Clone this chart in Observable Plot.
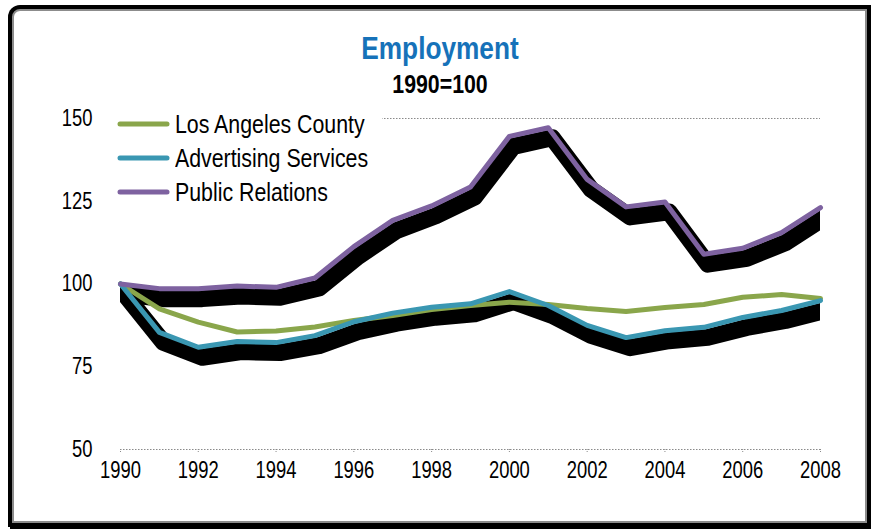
<!DOCTYPE html>
<html>
<head>
<meta charset="utf-8">
<script src="https://cdn.jsdelivr.net/npm/d3@7"></script>
<script src="https://cdn.jsdelivr.net/npm/@observablehq/plot@0.6"></script>
<style>
  html, body { margin: 0; padding: 0; background: #fff; }
  body { width: 871px; height: 529px; position: relative; overflow: hidden;
         font-family: "Liberation Sans", Arial, sans-serif; }
  #frame { position: absolute; left: 12px; top: 9px; width: 851px; height: 510px;
           border: 2px solid #8c8c8c; border-top-left-radius: 8px;
           box-shadow: 0 0 0 4px #000, 2px 3px 0 4px #000; background: #fff; }
  #head { position: relative; height: 100px; width: 871px; }
  #title { position: absolute; left: 0; width: 880px; top: 32px; text-align: center;
           font-size: 32px; line-height: 32px; font-weight: bold; color: #1672b9;
           transform: scaleX(0.82); transform-origin: 440px 0; }
  #subtitle { position: absolute; left: 0; width: 880px; top: 71px; text-align: center;
              font-size: 26px; line-height: 26px; font-weight: bold; color: #000;
              transform: scaleX(0.82); transform-origin: 440px 0; }
  #chart { position: relative; }
  #legend { position: absolute; left: 110px; top: 104px; width: 272px; height: 106px; background: #fff; }
  .row { position: absolute; left: 0; height: 30px; display: flex; align-items: center; }
  .row svg { margin-left: 7px; margin-right: 5px; flex: none; }
  .row span { font-size: 26px; line-height: 30px; color: #000; white-space: nowrap;
              display: inline-block; transform: scaleX(0.82); transform-origin: 0 50%; }
</style>
</head>
<body>
<div id="frame"></div>
<div id="head">
  <div id="title">Employment</div>
  <div id="subtitle">1990=100</div>
</div>
<div id="chart"></div>
<div id="legend"></div>
<script>
const years = [1990, 1991, 1992, 1993, 1994, 1995, 1996, 1997, 1998, 1999, 2000, 2001, 2002, 2003, 2004, 2005, 2006, 2007, 2008];
const laCounty = [100, 92.5, 88.5, 85.5, 85.8, 87, 89, 90.5, 92.3, 93.5, 94.5, 93.8, 92.6, 91.7, 92.9, 93.8, 96, 96.8, 95.6];
const advertising = [100, 85.4, 80.9, 82.6, 82.3, 84.4, 88.6, 91.2, 93, 94, 97.7, 93.5, 87.5, 83.8, 85.9, 86.9, 89.9, 92, 95];
const publicRelations = [100, 98.6, 98.6, 99.4, 99, 101.8, 111.3, 119.2, 123.6, 129.3, 144.6, 147.2, 131.6, 123.3, 124.8, 109, 110.8, 115.5, 123.1];
const seriesNames = ["Los Angeles County", "Advertising Services", "Public Relations"];
const seriesColors = ["#8aa64b", "#3a97b2", "#7e62a0"];
const xTicks = [1990, 1992, 1994, 1996, 1998, 2000, 2002, 2004, 2006, 2008];
const yTicks = [50, 75, 100, 125, 150];

const allSeries = [laCounty, advertising, publicRelations];
const rows = [];
allSeries.forEach((vals, i) => vals.forEach((v, j) => rows.push({series: seriesNames[i], year: years[j], value: v})));
const bySeries = name => rows.filter(d => d.series === name);

const shadowOpts = {x: "year", y: "value", stroke: "#000", strokeWidth: 17, dx: 4, dy: 10, clip: "frame", strokeLinejoin: "round"};
const lineOpts = (i) => ({x: "year", y: "value", stroke: seriesColors[i], strokeWidth: 5, strokeLinejoin: "round", strokeLinecap: "round"});

const chart = Plot.plot({
  width: 871, height: 429,
  marginLeft: 120, marginRight: 51, marginTop: 18, marginBottom: 80,
  style: {fontFamily: "'Liberation Sans', Arial, sans-serif", fontSize: "23px", color: "#000", background: "transparent", overflow: "visible"},
  x: {domain: [1990, 2008]},
  y: {domain: [50, 150]},
  marks: [
    Plot.ruleY([150], {stroke: "#8a8a8a", strokeDasharray: "1.5,1.5", strokeWidth: 1.2}),
    Plot.ruleY([50], {stroke: "#8a8a8a", strokeDasharray: "1.5,1.5", strokeWidth: 1.2}),
    Plot.axisY({ticks: yTicks, tickSize: 0, tickPadding: 28, label: null, fontSize: 23}),
    Plot.axisX({ticks: xTicks, tickSize: 3, tickPadding: 9, stroke: "#8a8a8a", strokeDasharray: "1,1", label: null, fontSize: 23, tickFormat: d => String(d)}),
    Plot.lineY(bySeries(seriesNames[1]), shadowOpts),
    Plot.lineY(bySeries(seriesNames[2]), shadowOpts),
    Plot.lineY(bySeries(seriesNames[0]), lineOpts(0)),
    Plot.lineY(bySeries(seriesNames[1]), lineOpts(1)),
    Plot.lineY(bySeries(seriesNames[2]), lineOpts(2))
  ]
});
// condense tick label glyphs horizontally (reference uses a narrow face)
chart.querySelectorAll("text").forEach(t => {
  const tr = t.getAttribute("transform") || "";
  t.setAttribute("transform", (tr + " scale(0.8,1)").trim());
});
document.getElementById("chart").appendChild(chart);

const legend = document.getElementById("legend");
const rowTops = [5, 39, 73];
seriesNames.forEach((name, i) => {
  const row = document.createElement("div");
  row.className = "row";
  row.style.top = rowTops[i] + "px";
  row.innerHTML = `<svg width="53" height="10"><line x1="3" y1="5" x2="50" y2="5" stroke="${seriesColors[i]}" stroke-width="5" stroke-linecap="round"/></svg><span>${name}</span>`;
  legend.appendChild(row);
});
</script>
</body>
</html>
